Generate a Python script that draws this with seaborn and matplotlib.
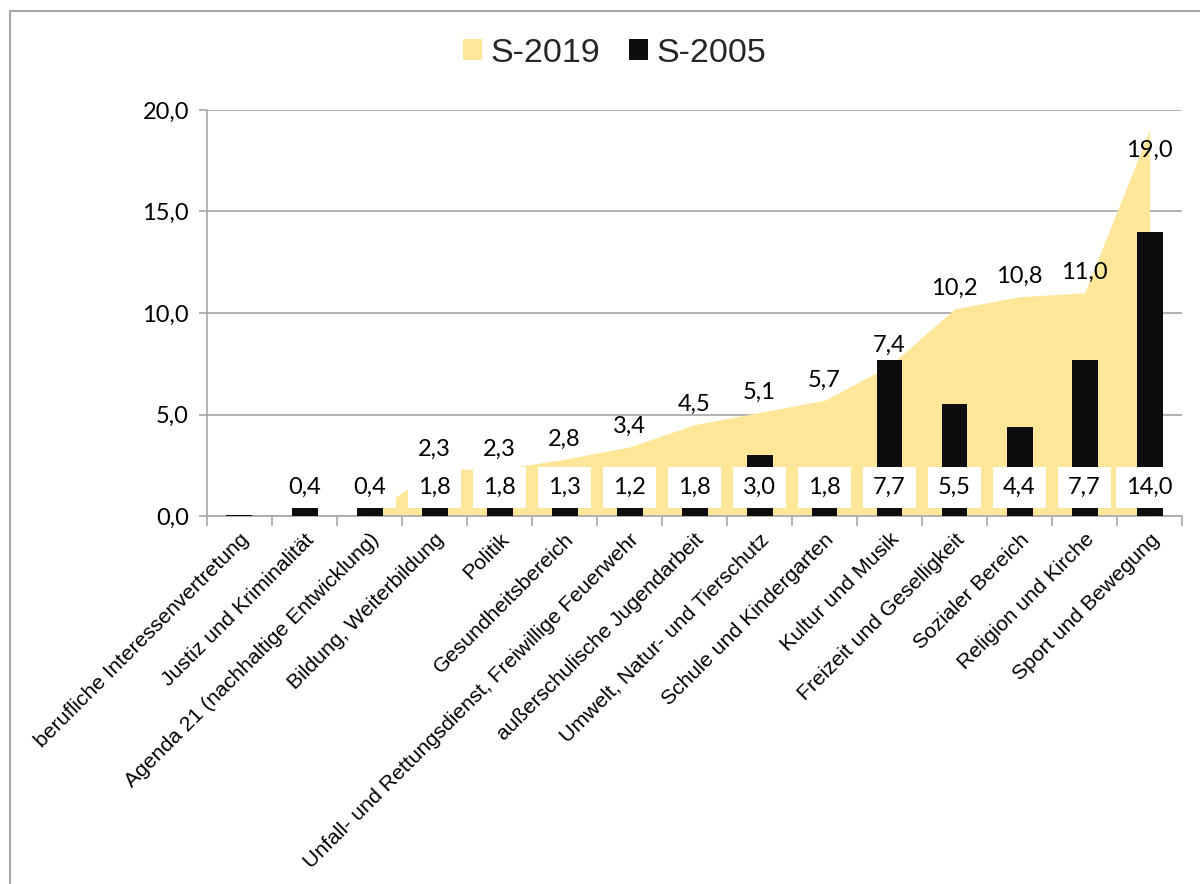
import matplotlib
matplotlib.use("Agg")
import matplotlib.pyplot as plt
from matplotlib.lines import Line2D
from matplotlib.patches import Patch
from matplotlib.ticker import FuncFormatter, FixedLocator
import numpy as np
import pandas as pd
import seaborn as sns

categories = [
    "berufliche Interessenvertretung",
    "Justiz und Kriminalität",
    "Agenda 21 (nachhaltige Entwicklung)",
    "Bildung, Weiterbildung",
    "Politik",
    "Gesundheitsbereich",
    "Unfall- und Rettungsdienst, Freiwillige Feuerwehr",
    "außerschulische Jugendarbeit",
    "Umwelt, Natur- und Tierschutz",
    "Schule und Kindergarten",
    "Kultur und Musik",
    "Freizeit und Geselligkeit",
    "Sozialer Bereich",
    "Religion und Kirche",
    "Sport und Bewegung",
]
s2019 = [0.0, 0.0, 0.0, 2.3, 2.3, 2.8, 3.4, 4.5, 5.1, 5.7, 7.4, 10.2, 10.8, 11.0, 19.0]
s2005 = [0.05, 0.4, 0.4, 1.8, 1.8, 1.3, 1.2, 1.8, 3.0, 1.8, 7.7, 5.5, 4.4, 7.7, 14.0]
y_ticks = [0, 5, 10, 15, 20]

YELLOW = "#FFE699"
BLACK = "#0D0D0D"
GREY = "#A6A6A6"
NUM_FONT = "Lato"
TXT_FONT = "Liberation Sans"
NUM_SIZE = 17


def de(v):
    return f"{v:.1f}".replace(".", ",")


sns.set_theme(style="white")
plt.rcParams["font.family"] = [TXT_FONT, "DejaVu Sans"]

df = pd.DataFrame({"Bereich": categories, "S-2019": s2019, "S-2005": s2005})
pos = np.arange(len(categories))

fig = plt.figure(figsize=(12, 8.84), dpi=100)
ax = fig.add_axes([207 / 1200, 1 - 516 / 884, (1182 - 207) / 1200, (516 - 110) / 884])

# 2019 share as an area across the category centres
ax.fill_between(pos, df["S-2019"], 0, color=YELLOW, linewidth=0, zorder=2)

# 2005 share as narrow bars
sns.barplot(data=df, x="Bereich", y="S-2005", color=BLACK, width=0.4,
            saturation=1, ax=ax, zorder=3, linewidth=0)

ax.set_xlim(-0.5, len(categories) - 0.5)
ax.set_ylim(0, 20)
ax.set_xlabel("")
ax.set_ylabel("")

# grid and axes
ax.yaxis.set_major_locator(FixedLocator(y_ticks))
ax.yaxis.set_major_formatter(FuncFormatter(lambda v, _: de(v)))
ax.grid(axis="y", color=GREY, linewidth=1.2, zorder=0)
ax.set_axisbelow(True)
for side in ("top", "right"):
    ax.spines[side].set_visible(False)
for side in ("left", "bottom"):
    ax.spines[side].set_color(GREY)
    ax.spines[side].set_linewidth(1.2)

ax.tick_params(axis="y", which="major", left=True, length=6, width=1.2,
               color=GREY, pad=7, labelsize=NUM_SIZE, labelcolor="black")
for lab in ax.get_yticklabels():
    lab.set_fontfamily(NUM_FONT)

ax.xaxis.set_minor_locator(FixedLocator(np.arange(-0.5, len(categories), 1.0)))
ax.tick_params(axis="x", which="minor", bottom=True, length=7, width=1.2, color=GREY)
ax.tick_params(axis="x", which="major", bottom=False, length=0, pad=10, labelsize=15.3,
               labelcolor="black")
ax.set_xticks(pos)
ax.set_xticklabels(categories, rotation=45, ha="right", rotation_mode="anchor",
                   fontfamily=TXT_FONT)

# value labels: 2019 above the area, 2005 in white boxes near the base
for i, v in enumerate(s2019):
    if v > 0:
        y = v + 1.0 if v + 1.0 < 19.5 else v - 1.0
        ax.text(i, y, de(v), ha="center", va="center", fontsize=NUM_SIZE,
                fontfamily=NUM_FONT, color="black", zorder=5)
for i, v in enumerate(s2005):
    if v >= 0.1:
        ax.text(i, 1.4, de(v), ha="center", va="center", fontsize=NUM_SIZE,
                fontfamily=NUM_FONT, color="black", zorder=6,
                bbox=dict(boxstyle="square,pad=0.42", facecolor="white",
                          edgecolor="none"))

# legend at the top
handles = [Patch(facecolor=YELLOW, edgecolor="none", label="S-2019"),
           Patch(facecolor=BLACK, edgecolor="none", label="S-2005")]
fig.legend(handles=handles, loc="center", bbox_to_anchor=(0.512, 1 - 53 / 884),
           ncol=2, frameon=False, prop={"family": TXT_FONT, "size": 24.5},
           handlelength=0.55, handleheight=0.55, handletextpad=0.25,
           columnspacing=0.85)

# chart frame
fig.add_artist(Line2D([9.5 / 1200, 9.5 / 1200], [0, 1 - 11 / 884],
                      transform=fig.transFigure, color=GREY, linewidth=1.5))
fig.add_artist(Line2D([9.5 / 1200, 1], [1 - 11 / 884, 1 - 11 / 884],
                      transform=fig.transFigure, color=GREY, linewidth=1.5))

fig.savefig("out.png", dpi=100, facecolor="white")
